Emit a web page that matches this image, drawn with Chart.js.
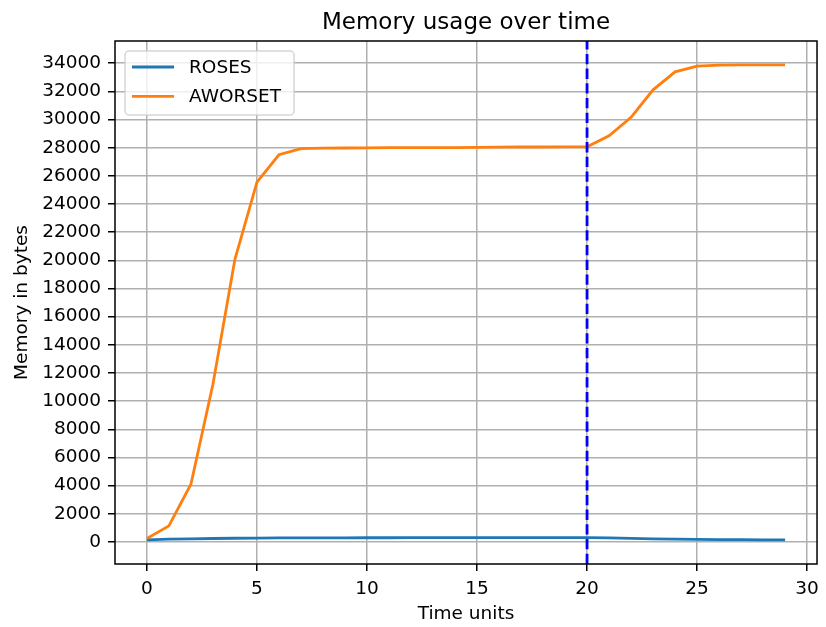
<!DOCTYPE html>
<html>
<head>
<meta charset="utf-8">
<script src="https://cdn.jsdelivr.net/npm/chart.js@4/dist/chart.umd.min.js"></script>
<style>
    html, body { margin: 0; padding: 0; background: #fff; }
    #chart { display: block; }
</style>
</head>
<body>
<canvas id="chart" width="826" height="627"></canvas>
<script>
const timeUnits    = [0, 1, 2, 3, 4, 5, 6, 7, 8, 9, 10, 11, 12, 13, 14, 15, 16, 17, 18, 19, 20, 21, 22, 23, 24, 25, 26, 27, 28, 29];
const rosesBytes   = [140, 190, 220, 240, 260, 270, 280, 285, 290, 290, 295, 295, 300, 300, 300, 300, 300, 300, 305, 305, 310, 280, 250, 220, 200, 180, 165, 155, 145, 140];
const aworsetBytes = [240, 1140, 4100, 11200, 20070, 25560, 27500, 27930, 27970, 27980, 27990, 28000, 28010, 28010, 28010, 28030, 28040, 28050, 28050, 28060, 28060, 28850, 30160, 32110, 33390, 33790, 33870, 33880, 33890, 33890];
const seriesNames  = ["ROSES", "AWORSET"];
const seriesColors = ["#1f77b4", "#ff7f0e"];
const markerTime   = 20;
const xTicks = [0, 5, 10, 15, 20, 25, 30];
const yTicks = [0, 2000, 4000, 6000, 8000, 10000, 12000, 14000, 16000, 18000, 20000, 22000, 24000, 26000, 28000, 30000, 32000, 34000];
const xRange = [-1.45, 30.45];
const yRange = [-1570, 35580];
const chartTitle = "Memory usage over time";

const FONT = "'DejaVu Sans', sans-serif";

const toPoints = arr => timeUnits.map((t, i) => ({ x: t, y: arr[i] }));

// title over the axes, frame round the plot area, legend box upper left
const framePlugin = {
    id: "frame",
    afterDraw(chart) {
        const { ctx, chartArea: a } = chart;
        ctx.save();
        ctx.strokeStyle = "#000";
        ctx.lineWidth = 1.5;
        ctx.strokeRect(a.left, a.top, a.right - a.left, a.bottom - a.top);

        ctx.fillStyle = "#000";
        ctx.font = "23px " + FONT;
        ctx.textAlign = "center";
        ctx.textBaseline = "alphabetic";
        ctx.fillText(chartTitle, (a.left + a.right) / 2, 29);

        // legend
        const bx = a.left + 10, by = a.top + 10, bw = 169, bh = 64, r = 4;
        ctx.beginPath();
        ctx.roundRect(bx, by, bw, bh, r);
        ctx.fillStyle = "rgba(255,255,255,0.8)";
        ctx.fill();
        ctx.strokeStyle = "rgba(204,204,204,0.8)";
        ctx.lineWidth = 1.5;
        ctx.stroke();

        ctx.font = "18.5px " + FONT;
        ctx.textBaseline = "middle";
        ctx.textAlign = "left";
        seriesNames.forEach((name, i) => {
            const y = by + 16 + i * 29.3;
            ctx.beginPath();
            ctx.moveTo(bx + 7, y);
            ctx.lineTo(bx + 49, y);
            ctx.strokeStyle = seriesColors[i];
            ctx.lineWidth = 2.8;
            ctx.stroke();
            ctx.fillStyle = "#000";
            ctx.fillText(name, bx + 64, y + 1);
        });
        ctx.restore();
    }
};

new Chart(document.getElementById("chart"), {
    type: "line",
    data: {
        datasets: [
            {
                label: seriesNames[0],
                data: toPoints(rosesBytes),
                borderColor: seriesColors[0],
                borderWidth: 2.8,
                pointRadius: 0,
                tension: 0,
                order: 3,
            },
            {
                label: seriesNames[1],
                data: toPoints(aworsetBytes),
                borderColor: seriesColors[1],
                borderWidth: 2.8,
                pointRadius: 0,
                tension: 0,
                order: 2,
            },
            {
                label: "marker",
                data: [{ x: markerTime, y: yRange[0] }, { x: markerTime, y: yRange[1] }],
                borderColor: "#0000ff",
                borderWidth: 2.8,
                borderDash: [10.3, 4.4],
                pointRadius: 0,
                order: 1,
            },
        ]
    },
    options: {
        responsive: false,
        animation: false,
        devicePixelRatio: 1,
        layout: { padding: { left: 0, right: 8, top: 41, bottom: 0 } },
        plugins: {
            legend: { display: false },
            tooltip: { enabled: false },
            title: { display: false },
        },
        scales: {
            x: {
                type: "linear",
                min: xRange[0],
                max: xRange[1],
                afterBuildTicks: s => { s.ticks = xTicks.map(v => ({ value: v })); },
                afterFit: s => { s.height = 63; },
                ticks: {
                    color: "#000",
                    font: { family: FONT, size: 18.5 },
                    padding: 7,
                    maxRotation: 0,
                },
                grid: { color: "#b0b0b0", lineWidth: 1.5, tickColor: "#000", tickLength: 7 },
                border: { display: false },
                title: {
                    display: true,
                    text: "Time units",
                    color: "#000",
                    font: { family: FONT, size: 18.5 },
                    padding: { top: 0, bottom: 2 },
                },
            },
            y: {
                type: "linear",
                min: yRange[0],
                max: yRange[1],
                afterBuildTicks: s => { s.ticks = yTicks.map(v => ({ value: v })); },
                afterFit: s => { s.width = 115; },
                ticks: {
                    color: "#000",
                    font: { family: FONT, size: 18.5 },
                    padding: 7,
                    callback: v => String(v),
                },
                grid: { color: "#b0b0b0", lineWidth: 1.5, tickColor: "#000", tickLength: 7 },
                border: { display: false },
                title: {
                    display: true,
                    text: "Memory in bytes",
                    color: "#000",
                    font: { family: FONT, size: 18.5 },
                    padding: { top: 11, bottom: 0 },
                },
            },
        },
    },
    plugins: [framePlugin],
});
</script>
</body>
</html>
